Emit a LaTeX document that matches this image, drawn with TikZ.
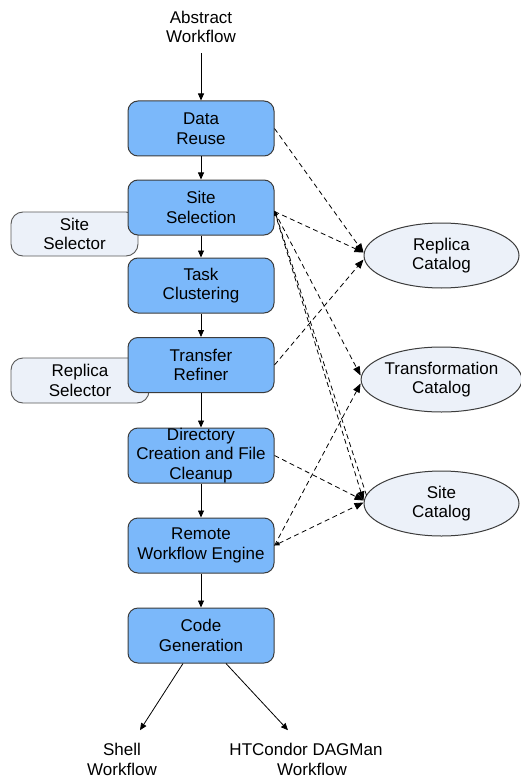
\documentclass[tikz,border=0pt]{standalone}
\usepackage{fontspec}
\setmainfont{Liberation Sans}
\usetikzlibrary{shapes.geometric,arrows.meta}
\definecolor{stepblue}{RGB}{123,184,250}
\definecolor{paleblue}{RGB}{236,241,249}
\definecolor{edgegray}{RGB}{60,60,60}

\begin{document}
\begin{tikzpicture}[x=1pt,y=-1pt,
  every node/.style={font=\fontsize{17}{19.5}\selectfont, align=center, text=black},
  stage/.style={draw=edgegray, line width=1pt, fill=stepblue, rounded corners=10pt,
    minimum width=146pt, minimum height=55pt, inner sep=0pt},
  helper/.style={draw=edgegray!85, line width=0.9pt, fill=paleblue, rounded corners=12pt, inner sep=0pt},
  catalog/.style={ellipse, draw=edgegray, line width=1pt, fill=paleblue,
    minimum width=155pt, minimum height=65pt, inner sep=0pt},
  termtext/.style={inner sep=0pt},
  flow/.style={-{Triangle[length=7pt,width=6pt]}, line width=0.8pt},
  query/.style={-{Triangle[length=9pt,width=7pt]}, dash pattern=on 5pt off 3.5pt, line width=0.8pt},
  backtip/.style={{Triangle[length=5pt,width=4pt]}-{Triangle[length=9pt,width=7pt]}}]

\fill[white] (0,0) rectangle (520,778);
\useasboundingbox (0,0) rectangle (520,778);

% input
\node[termtext] (abstract) at (201,27) {Abstract\\Workflow};

% helper components sitting behind the stages
\node[helper, minimum width=127pt, minimum height=44pt] (sitesel) at (74.5,234) {Site\\Selector};
\node[helper, minimum width=138pt, minimum height=45pt] (repsel) at (80,380.5) {Replica\\Selector};

% refinement stages
\node[stage] (reuse)   at (201,128.5) {Data\\Reuse};
\node[stage] (site)    at (201,207.5) {Site\\Selection};
\node[stage] (cluster) at (201,285.5) {Task\\Clustering};
\node[stage] (refiner) at (201,365)   {Transfer\\Refiner};
\node[stage] (dircl)   at (201,455.5) {Directory\\Creation and File\\Cleanup};
\node[stage] (remote)  at (201,545.5) {Remote\\Workflow Engine};
\node[stage] (codegen) at (201,635.5) {Code\\Generation};

% catalogs
\node[catalog] (replica) at (441.5,255.5) {Replica\\Catalog};
\node[catalog] (transf)  at (441.5,379.5) {Transformation\\Catalog};
\node[catalog] (sitecat) at (441.5,503.5) {Site\\Catalog};

% outputs
\node[termtext] (shell)  at (122,759.4) {Shell\\Workflow};
\node[termtext] (condor) at (306,759.4) {HTCondor DAGMan\\\hspace*{12pt}Workflow};

% main pipeline
\draw[flow, shorten <=10pt] (abstract) -- (reuse);
\draw[flow] (reuse) -- (site);
\draw[flow] (site) -- (cluster);
\draw[flow] (cluster) -- (refiner);
\draw[flow] (refiner) -- (dircl);
\draw[flow] (dircl) -- (remote);
\draw[flow] (remote) -- (codegen);
\draw[flow] ([xshift=-18pt]codegen.south) -- ([xshift=18pt,yshift=13pt]shell.north);
\draw[flow] ([xshift=25pt]codegen.south) -- ([xshift=-18pt,yshift=13pt]condor.north);

% catalog lookups
\draw[query] (reuse.east) -- ([yshift=3pt]replica.west);
\draw[query] ([yshift=-4pt]site.east) -- ([yshift=3pt]replica.west);
\draw[query] ([yshift=-4pt]site.east) -- ([yshift=4pt]transf.west);
\draw[query] ([yshift=-4pt]site.east) -- ([yshift=3pt]sitecat.west);
\draw[query, -{Triangle[length=5pt,width=4pt]}] ([xshift=3pt,yshift=8pt]sitecat.west) -- ([yshift=-3pt]site.east);
\draw[query] (refiner.east) -- ([yshift=-4pt]replica.west);
\draw[query] (dircl.east) -- ([yshift=3pt]sitecat.west);
\draw[query] (remote.east) -- ([yshift=-4pt]transf.west);
\draw[query, backtip] (remote.east) -- ([yshift=1pt]sitecat.west);

\end{tikzpicture}
\end{document}
